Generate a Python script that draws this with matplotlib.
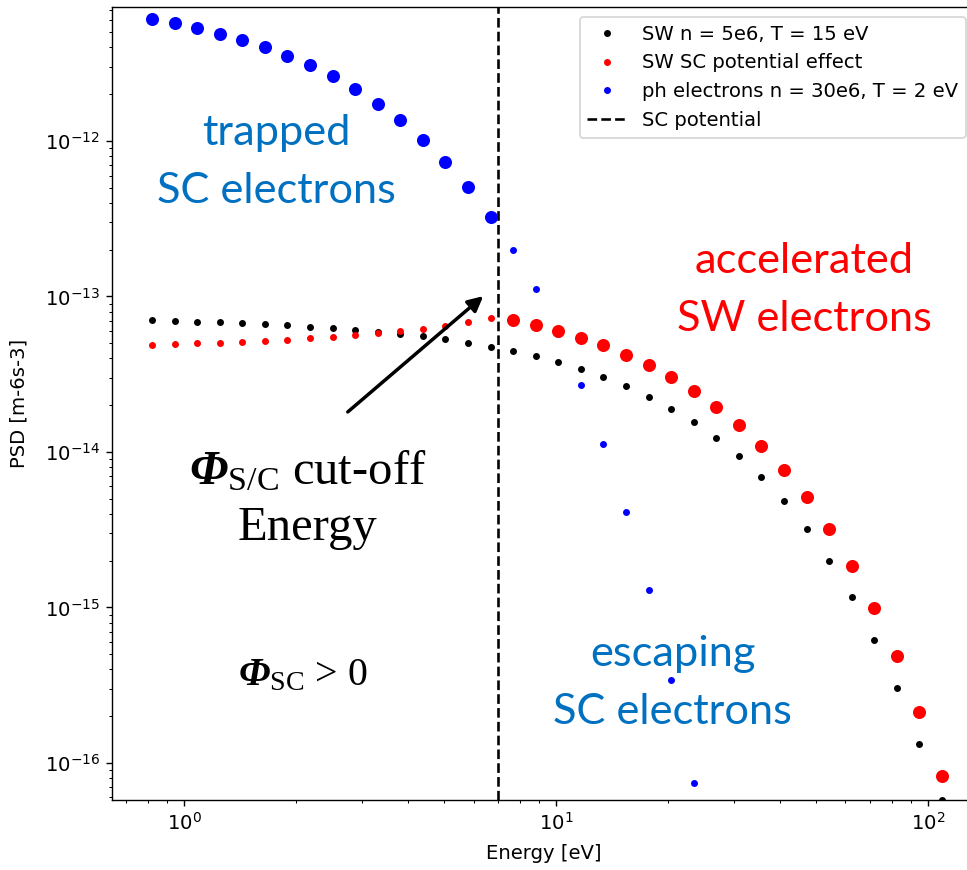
import numpy as np
import matplotlib.pyplot as plt

# energy bins [eV]
energy = np.array([0.82, 0.943, 1.084, 1.247, 1.434, 1.649, 1.896, 2.18, 2.507, 2.883,
                   3.315, 3.812, 4.384, 5.041, 5.797, 6.666, 7.666, 8.815, 10.14, 11.66,
                   13.4, 15.41, 17.73, 20.38, 23.44, 26.96, 31.0, 35.65, 40.99, 47.14,
                   54.21, 62.34, 71.69, 82.44, 94.8, 109.0])

# solar wind electrons, n = 5e6, T = 15 eV
sw_psd = np.array([7.02e-14, 6.96e-14, 6.89e-14, 6.82e-14, 6.73e-14, 6.64e-14, 6.53e-14,
                   6.41e-14, 6.27e-14, 6.11e-14, 5.94e-14, 5.75e-14, 5.53e-14, 5.29e-14,
                   5.03e-14, 4.75e-14, 4.45e-14, 4.12e-14, 3.77e-14, 3.41e-14, 3.03e-14,
                   2.65e-14, 2.27e-14, 1.90e-14, 1.55e-14, 1.23e-14, 9.38e-15, 6.88e-15,
                   4.82e-15, 3.20e-15, 2.00e-15, 1.16e-15, 6.22e-16, 3.04e-16, 1.33e-16,
                   5.8e-17])

# solar wind as seen with the spacecraft potential
sw_sc_psd = np.array([4.91e-14, 4.95e-14, 5.00e-14, 5.05e-14, 5.11e-14, 5.19e-14, 5.27e-14,
                      5.37e-14, 5.49e-14, 5.63e-14, 5.80e-14, 5.99e-14, 6.22e-14, 6.50e-14,
                      6.84e-14, 7.25e-14, 7.09e-14, 6.57e-14, 6.01e-14, 5.43e-14, 4.84e-14,
                      4.23e-14, 3.62e-14, 3.04e-14, 2.48e-14, 1.96e-14, 1.50e-14, 1.10e-14,
                      7.69e-15, 5.10e-15, 3.18e-15, 1.85e-15, 9.92e-16, 4.85e-16, 2.13e-16,
                      8.25e-17])

# photoelectrons, n = 30e6, T = 2 eV
ph_psd = np.array([6.06e-12, 5.70e-12, 5.31e-12, 4.89e-12, 4.46e-12, 4.00e-12, 3.54e-12,
                   3.07e-12, 2.61e-12, 2.16e-12, 1.74e-12, 1.36e-12, 1.02e-12, 7.34e-13,
                   5.03e-13, 3.26e-13, 1.98e-13, 1.11e-13, 5.74e-14, 2.68e-14, 1.12e-14,
                   4.11e-15, 1.29e-15, 3.42e-16, 7.41e-17, 1.28e-17])

sc_potential = 7.0

plt.rcParams['font.size'] = 11.3
plt.rcParams['mathtext.rm'] = 'Liberation Serif'
plt.rcParams['mathtext.it'] = 'Liberation Serif:italic'
plt.rcParams['mathtext.bf'] = 'Liberation Serif:bold'
plt.rcParams['mathtext.bfit'] = 'Liberation Serif:italic:bold'

fig = plt.figure(figsize=(7.736, 6.96), dpi=125)
ax = fig.add_axes([0.1158, 0.0805, 0.8935, 0.9115])

e_ph = energy[:len(ph_psd)]
ax.plot(energy, sw_psd, 'k.', label='SW n = 5e6, T = 15 eV')
ax.plot(energy, sw_sc_psd, 'r.', label='SW SC potential effect')
ax.plot(e_ph, ph_psd, 'b.', label='ph electrons n = 30e6, T = 2 eV')
ax.axvline(sc_potential, color='k', ls='--', label='SC potential')

# bigger dots where each population actually reaches the spacecraft
acc = energy > sc_potential
trap = e_ph < sc_potential
ax.plot(energy[acc], sw_sc_psd[acc], 'r.', ms=13)
ax.plot(e_ph[trap], ph_psd[trap], 'b.', ms=13)

ax.set_xscale('log')
ax.set_yscale('log')
ax.set_xlim(0.64, 134.6)
ax.set_ylim(5.78e-17, 7.28e-12)
ax.set_xlabel('Energy [eV]', labelpad=6)
ax.set_ylabel('PSD [m-6s-3]', labelpad=9)
ax.legend(loc='upper right')

sans = 'Lato'
ax.text(0.19, 0.805, 'trapped\nSC electrons', transform=ax.transAxes, ha='center',
        va='center', color='#0070C0', fontsize=25, family=sans, linespacing=1.65)
ax.text(0.801, 0.643, 'accelerated\nSW electrons', transform=ax.transAxes, ha='center',
        va='center', color='#FF0000', fontsize=25, family=sans, linespacing=1.65)
ax.text(0.649, 0.1475, 'escaping\nSC electrons', transform=ax.transAxes, ha='center',
        va='center', color='#0070C0', fontsize=25, family=sans, linespacing=1.65)

ax.text(0.2267, 0.378, r'$\mathbfit{\Phi}_{\mathrm{S/C}}$ cut-off' + '\nEnergy',
        transform=ax.transAxes, ha='center', va='center', fontsize=28,
        family='Liberation Serif', math_fontfamily='custom', linespacing=1.33)
ax.text(0.221, 0.156, r'$\mathbfit{\Phi}_{\mathrm{SC}}$ > 0', transform=ax.transAxes,
        ha='center', va='center', fontsize=23, family='Liberation Serif',
        math_fontfamily='custom')

ax.annotate('', xy=(6.48, 1.04e-13), xytext=(2.71, 1.75e-14),
            arrowprops=dict(arrowstyle='-|>', color='k', lw=2.0, mutation_scale=18))

fig.savefig('out.png', dpi=125)
